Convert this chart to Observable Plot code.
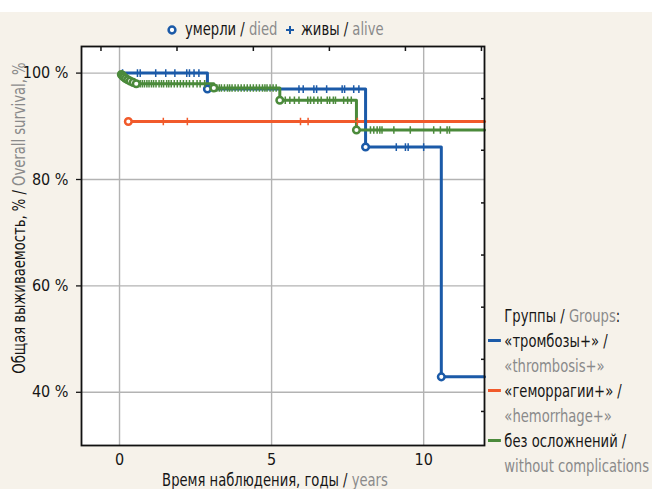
<!DOCTYPE html>
<html><head><meta charset="utf-8">
<script src="https://cdn.jsdelivr.net/npm/d3@7"></script>
<script src="https://cdn.jsdelivr.net/npm/@observablehq/plot@0.6"></script>
<style>
html,body{margin:0;padding:0;background:#fff;}
#fig{position:relative;width:652px;height:489px;overflow:hidden;background:linear-gradient(#ffffff 0 12px,#f6f2ea 12px);
 font-family:"DejaVu Sans Condensed","Liberation Sans Narrow","Open Sans",sans-serif;font-stretch:condensed;color:#161616;}
#fig svg.plot{position:absolute;left:0;top:0;}
.g{color:#8a8a8a}
.abs{position:absolute;white-space:nowrap;font-size:17px;line-height:20px;}
.sx{transform-origin:0 50%;transform:scaleX(0.86);}
#ytitle{left:19px;top:218px;transform:translate(-50%,-50%) rotate(-90deg) scaleX(0.86);transform-origin:50% 50%;}
#xtitle{left:275px;top:470px;transform:translateX(-50%) scaleX(0.86);transform-origin:50% 50%;}
#grplegend{left:488px;top:304px;line-height:25px;}
#grplegend .sw{display:inline-block;width:15px;height:3px;margin-right:4px;vertical-align:5px;}
#grplegend .ind{padding-left:19px;}
.sym{position:absolute;}
</style></head><body><div id="fig"></div>
<script>
// ---- data ----
const followUpEnd = 12;
const xTicks = [0, 5, 10];
const yTicks = [40, 60, 80, 100];
const topMinorTicks = [-0.61, 1.89, 4.4, 6.9, 9.4, 11.9];
const rightMinorTicks = [95.2, 85.5, 75.6, 65.8, 56.0, 46.2, 36.4];

const groupKeys = ["thrombosis", "hemorrhage", "none"];
const groupLabelsRu = ["«тромбозы+» /", "«геморрагии+» /", "без осложнений /"];
const groupLabelsEn = ["«thrombosis+»", "«hemorrhage+»", "without complications"];
const groupColors = ["#1b5aa8", "#f15a2b", "#4b8a3b"];

// thrombosis+
const thrombosisTimes = [0.05, 2.89, 8.09, 10.58];
const thrombosisSurv = [100, 97.0, 86.1, 42.9];
const thrombosisDeaths = [2.89, 8.09, 10.58];
const thrombosisCensored = [0.10, 0.59, 0.68, 1.19, 1.52, 1.82, 2.21, 2.30, 2.45, 2.61,
  5.90, 6.04, 6.39, 6.48, 6.81, 7.32, 7.40, 7.70, 7.87, 9.10, 9.40, 9.49, 10.0];
// hemorrhage+
const hemorrhageTimes = [0.29];
const hemorrhageSurv = [90.9];
const hemorrhageDeaths = [0.29];
const hemorrhageCensored = [1.44, 2.23, 5.95, 6.20, 7.82];
// without complications
const noneTimes = [0.03, 0.06, 0.10, 0.14, 0.20, 0.27, 0.35, 0.45, 0.55, 3.10, 5.27, 7.79];
const noneSurv = [100, 99.75, 99.5, 99.25, 99.0, 98.75, 98.5, 98.25, 98.0, 97.2, 94.9, 89.3];
const noneDeaths = [0.06, 0.10, 0.14, 0.20, 0.27, 0.35, 0.45, 0.55, 3.10, 5.27, 7.79];
const noneCensored = [0.08, 0.60, 0.68, 0.75, 0.82, 0.90, 0.97, 1.05, 1.12, 1.20, 1.30, 1.38, 1.45, 1.55, 1.62,
  1.70, 1.80, 1.90, 2.00, 2.10, 2.20, 2.30, 2.42, 2.55, 2.65, 2.80,
  3.20, 3.28, 3.35, 3.45, 3.55, 3.62, 3.70, 3.80, 3.90, 4.00, 4.10, 4.20, 4.30, 4.40, 4.50, 4.60, 4.70, 4.78, 4.85, 4.95, 5.05, 5.15,
  5.45, 5.60, 5.75, 5.90, 6.19, 6.28, 6.39, 6.52, 6.63, 6.83, 6.91, 7.03, 7.10, 7.37, 7.50, 7.62,
  8.25, 8.36, 8.47, 8.56, 8.63, 9.02, 9.56, 10.33, 10.55, 10.77, 10.85];

// ---- build ----
const groups = {
  thrombosis: {times: thrombosisTimes, surv: thrombosisSurv, deaths: thrombosisDeaths, cens: thrombosisCensored},
  hemorrhage: {times: hemorrhageTimes, surv: hemorrhageSurv, deaths: hemorrhageDeaths, cens: hemorrhageCensored},
  none: {times: noneTimes, surv: noneSurv, deaths: noneDeaths, cens: noneCensored}
};
function levelAt(g, t) { let s = g.surv[0]; g.times.forEach((ti, i) => { if (ti <= t) s = g.surv[i]; }); return s; }
function stepPts(g) { const p = g.times.map((t, i) => ({t, s: g.surv[i]})); p.push({t: followUpEnd, s: g.surv[g.surv.length - 1]}); return p; }

const drawOrder = ["hemorrhage", "thrombosis", "none"];
const lineMarks = [], markerMarks = [];
drawOrder.forEach(k => {
  const g = groups[k], c = groupColors[groupKeys.indexOf(k)];
  lineMarks.push(Plot.line(stepPts(g), {x: "t", y: "s", curve: "step-after", stroke: c, strokeWidth: 3}));
  markerMarks.push(Plot.dot(g.cens.map(t => ({t, s: levelAt(g, t)})), {x: "t", y: "s", symbol: "plus", r: 2.6, stroke: c, strokeWidth: 1.5}));
  markerMarks.push(Plot.dot(g.deaths.map(t => ({t, s: levelAt(g, t)})), {x: "t", y: "s", r: 3.3, fill: "white", stroke: c, strokeWidth: 2.5}));
});

const chart = Plot.plot({
  width: 652, height: 489,
  marginLeft: 81, marginRight: 168, marginTop: 46, marginBottom: 44,
  x: {domain: [-1.25, followUpEnd]},
  y: {domain: [30, 105]},
  style: {background: "transparent", fontFamily: "'DejaVu Sans Condensed','Liberation Sans Narrow','Open Sans',sans-serif", fontSize: "16px", color: "#161616"},
  marks: [
    Plot.frame({fill: "white", stroke: null}),
    Plot.ruleX(xTicks, {stroke: "#b3b3b3", strokeWidth: 1.4}),
    Plot.ruleY(yTicks, {stroke: "#b3b3b3", strokeWidth: 1.4}),
    ...lineMarks,
    ...markerMarks,
    Plot.frame({stroke: "#111", strokeWidth: 1.8}),
    Plot.axisY(yTicks, {anchor: "left", tickSize: 5, tickPadding: 8, tickFormat: d => `${d} %`, label: null, fontSize: 16, strokeWidth: 1.3}),
    Plot.axisX(xTicks, {anchor: "bottom", tickSize: 0, tickPadding: 8, label: null, fontSize: 16}),
    Plot.axisX(topMinorTicks, {anchor: "top", tickSize: 4, dy: 4, tickFormat: () => "", label: null, strokeWidth: 1.5}),
    Plot.axisY(rightMinorTicks, {anchor: "right", tickSize: 4, dx: -4, tickFormat: () => "", label: null, strokeWidth: 1.5})
  ]
});
chart.classList.add("plot");
const fig = document.getElementById("fig");
fig.appendChild(chart);

const blue = groupColors[0];
fig.insertAdjacentHTML("beforeend", `
<div class="abs" id="ytitle">Общая выживаемость, % / <span class="g">Overall survival, %</span></div>
<div class="abs" id="xtitle">Время наблюдения, годы / <span class="g">years</span></div>
<svg class="sym" style="left:166px;top:24px" width="12" height="12"><circle cx="6" cy="6" r="3.4" fill="white" stroke="${blue}" stroke-width="2.5"/></svg>
<div class="abs sx" style="left:185px;top:19px">умерли / <span class="g">died</span></div>
<svg class="sym" style="left:284px;top:24px" width="12" height="12"><path d="M6 2V10M2 6H10" stroke="${blue}" stroke-width="2"/></svg>
<div class="abs sx" style="left:301px;top:19px">живы / <span class="g">alive</span></div>
<div class="abs sx" id="grplegend"><div class="ind">Группы / <span class="g">Groups</span>:</div>${
  groupKeys.map((k, i) => `<div><span class="sw" style="background:${groupColors[i]}"></span>${groupLabelsRu[i]}</div><div class="ind g">${groupLabelsEn[i]}</div>`).join("")
}</div>`);
</script></body></html>
